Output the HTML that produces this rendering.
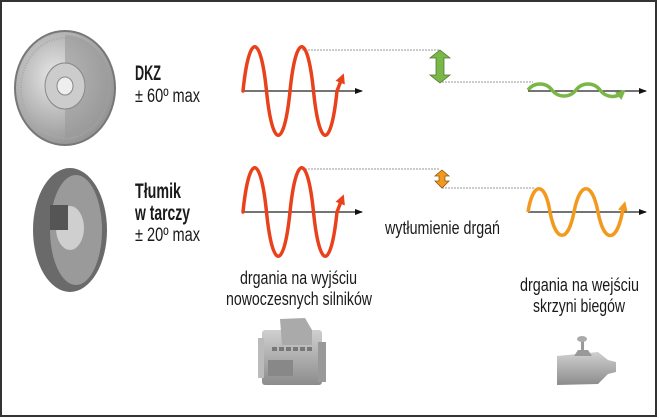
<!DOCTYPE html>
<html><head><meta charset="utf-8"><style>
html,body{margin:0;padding:0;background:#fff}
svg{display:block}
text{font-family:"Liberation Sans",sans-serif;fill:#1a1a1a}
</style></head><body>
<svg width="660" height="418" viewBox="0 0 660 418" xmlns="http://www.w3.org/2000/svg">
<defs>
<marker id="ax" markerWidth="8" markerHeight="8" refX="7" refY="4" orient="auto" markerUnits="userSpaceOnUse"><path d="M0,1 L8,4 L0,7z" fill="#111"/></marker>
<marker id="ar" markerWidth="10" markerHeight="10" refX="5" refY="5" orient="auto" markerUnits="userSpaceOnUse"><path d="M0,0 L10,5 L0,10z" fill="#e8411b"/></marker>
<marker id="ag" markerWidth="10" markerHeight="10" refX="5" refY="5" orient="auto" markerUnits="userSpaceOnUse"><path d="M0,0 L10,5 L0,10z" fill="#7ab648"/></marker>
<marker id="ao" markerWidth="10" markerHeight="10" refX="5" refY="5" orient="auto" markerUnits="userSpaceOnUse"><path d="M0,0 L10,5 L0,10z" fill="#f39a1e"/></marker>
<radialGradient id="fw" cx="0.4" cy="0.4" r="0.7"><stop offset="0" stop-color="#e8e8e8"/><stop offset="1" stop-color="#8a8a8a"/></radialGradient>
<linearGradient id="gr" x1="0" y1="0" x2="0" y2="1"><stop offset="0" stop-color="#d0d0d0"/><stop offset="1" stop-color="#8c8c8c"/></linearGradient>
</defs>
<rect x="1" y="1" width="655" height="415" fill="#fff" stroke="#333" stroke-width="2"/>

<!-- flywheel -->
<ellipse cx="65" cy="88" rx="50" ry="57" fill="url(#fw)" stroke="#777" stroke-width="2"/>
<ellipse cx="65" cy="88" rx="44" ry="50" fill="none" stroke="#aaa" stroke-width="2" stroke-dasharray="1 1.5"/>
<path d="M65,35 A44,50 0 0 1 65,138 Z" fill="#9a9a9a" opacity="0.6"/>
<ellipse cx="65" cy="86" rx="20" ry="23" fill="#ccc" stroke="#888"/>
<ellipse cx="65" cy="86" rx="8" ry="9" fill="#eee" stroke="#888"/>
<!-- clutch disc -->
<ellipse cx="70" cy="230" rx="37" ry="62" fill="#6a6a6a"/>
<ellipse cx="76" cy="230" rx="26" ry="55" fill="#9a9a9a"/>
<ellipse cx="70" cy="228" rx="14" ry="22" fill="#cfcfcf"/>
<rect x="50" y="205" width="18" height="25" fill="#555"/>

<!-- labels left -->
<text x="135" y="80" font-size="21" font-weight="bold" textLength="26" lengthAdjust="spacingAndGlyphs">DKZ</text>
<text x="135" y="102" font-size="19" textLength="65" lengthAdjust="spacingAndGlyphs">± 60º max</text>
<text x="135" y="198" font-size="21" font-weight="bold" textLength="46" lengthAdjust="spacingAndGlyphs">Tłumik</text>
<text x="135" y="220" font-size="21" font-weight="bold" textLength="55" lengthAdjust="spacingAndGlyphs">w tarczy</text>
<text x="135" y="241" font-size="19" textLength="65" lengthAdjust="spacingAndGlyphs">± 20º max</text>

<!-- axes -->
<line x1="243" y1="91" x2="362" y2="91" stroke="#222" stroke-width="1.2" marker-end="url(#ax)"/>
<line x1="243" y1="212" x2="362" y2="212" stroke="#222" stroke-width="1.2" marker-end="url(#ax)"/>
<line x1="528" y1="91" x2="646" y2="91" stroke="#222" stroke-width="1.2" marker-end="url(#ax)"/>
<line x1="528" y1="212" x2="646" y2="212" stroke="#222" stroke-width="1.2" marker-end="url(#ax)"/>

<!-- dotted level lines -->
<line x1="302" y1="50" x2="440" y2="50" stroke="#999" stroke-width="1" stroke-dasharray="2 1"/>
<line x1="442" y1="82" x2="533" y2="82" stroke="#999" stroke-width="1" stroke-dasharray="2 1"/>
<line x1="302" y1="169" x2="440" y2="169" stroke="#999" stroke-width="1" stroke-dasharray="2 1"/>
<line x1="442" y1="188" x2="535" y2="188" stroke="#999" stroke-width="1" stroke-dasharray="2 1"/>

<!-- double arrows -->
<path d="M440,50 L450,58 L444,58 L444,75 L450,75 L440,83 L430,75 L436,75 L436,58 L430,58 Z" fill="#7ab648" stroke="#4e7a2c" stroke-width="0.8"/>
<path d="M442,170 L449,176 L445,176 L445,181 L449,181 L442,188 L435,181 L439,181 L439,176 L435,176 Z" fill="#f39a1e" stroke="#8a5a10" stroke-width="0.8"/>

<!-- red waves -->
<g fill="none" stroke="#e8411b" stroke-width="3.5" stroke-linecap="round">
<path d="M243,91 C249,32 260.5,32 266.5,91 C272.5,150 284,150 290,91 C296,32 307.5,32 313.5,91 C319.5,150 331,150 337,91 L342,78" marker-end="url(#ar)"/>
<path d="M243,212 C249,153 260.5,153 266.5,212 C272.5,271 284,271 290,212 C296,153 307.5,153 313.5,212 C319.5,271 331,271 337,212 L342,199" marker-end="url(#ar)"/>
</g>
<!-- green wave -->
<path d="M528,90 C534,82 546,82 552,90 C558,98 570,98 576,90 C582,82 594,82 600,90 C606,98 616,98 622,93" fill="none" stroke="#7ab648" stroke-width="3.5" marker-end="url(#ag)"/>
<!-- orange wave -->
<path d="M528,212 C533,181 545,181 550,212 C556,243 568,243 574,212 C580,181 592,181 598,212 C604,243 616,243 622,214 L624,206" fill="none" stroke="#f39a1e" stroke-width="3.5" marker-end="url(#ao)"/>

<text x="385" y="234" font-size="18" textLength="115" lengthAdjust="spacingAndGlyphs">wytłumienie drgań</text>
<text x="240" y="284" font-size="18" textLength="117" lengthAdjust="spacingAndGlyphs">drgania na wyjściu</text>
<text x="226" y="305" font-size="18" textLength="146" lengthAdjust="spacingAndGlyphs">nowoczesnych silników</text>
<text x="520" y="291" font-size="18" textLength="119" lengthAdjust="spacingAndGlyphs">drgania na wejściu</text>
<text x="533" y="312" font-size="18" textLength="92" lengthAdjust="spacingAndGlyphs">skrzyni biegów</text>

<!-- engine -->
<g fill="url(#gr)">
<rect x="262" y="330" width="60" height="55" rx="3"/>
<path d="M280,319 L305,318 L312,330 L312,345 L282,345 Z" fill="#aaa"/>
<rect x="258" y="338" width="6" height="40" fill="#bbb"/>
<rect x="318" y="342" width="8" height="40" fill="#999"/>
<rect x="268" y="360" width="25" height="16" fill="#888"/>
</g>
<g fill="#777"><rect x="272" y="347" width="5" height="4"/><rect x="279" y="347" width="5" height="4"/><rect x="286" y="347" width="5" height="4"/><rect x="293" y="347" width="5" height="4"/><rect x="300" y="347" width="5" height="4"/><rect x="307" y="347" width="5" height="4"/></g>
<!-- gearbox -->
<path d="M557,356 L598,352 L608,360 L616,362 L616,372 L608,374 L598,384 L557,385 Z" fill="url(#gr)"/>
<rect x="581" y="340" width="3" height="12" fill="#999"/>
<ellipse cx="582" cy="339" rx="5" ry="3" fill="#aaa"/>
<path d="M574,356 L578,350 L588,350 L592,356 Z" fill="#999"/>
</svg>
</body></html>
